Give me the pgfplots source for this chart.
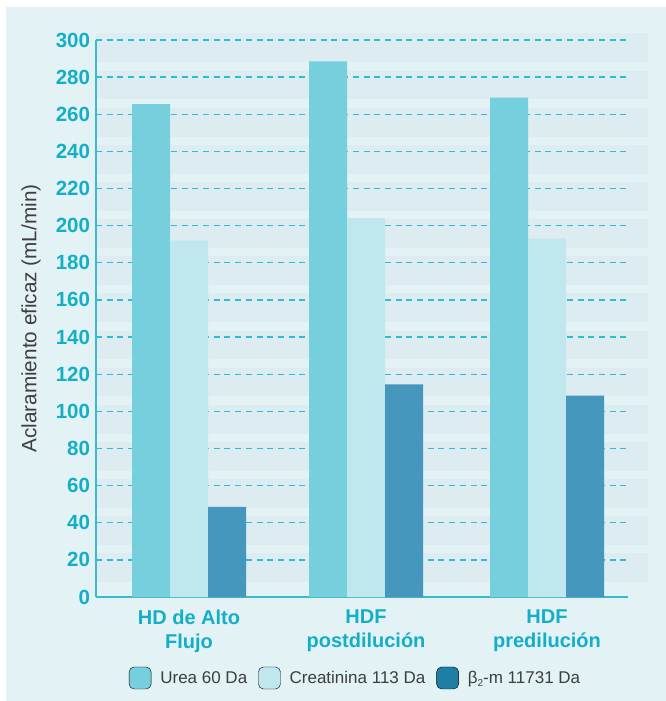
\documentclass[border=0pt]{standalone}
\usepackage{pgfplots}
\pgfplotsset{compat=1.18}
\usepackage{fontspec}
\setmainfont{Liberation Sans}

\definecolor{panel}{HTML}{E2F2F5}
\definecolor{band}{HTML}{DCECF0}
\definecolor{tealtxt}{HTML}{14AEC7}
\definecolor{gridc}{HTML}{2BBDD5}
\definecolor{axisc}{HTML}{3ABACD}
\definecolor{urea}{HTML}{76CFDD}
\definecolor{creat}{HTML}{C0E6EE}
\definecolor{beta}{HTML}{4697BD}
\definecolor{betaleg}{HTML}{1F7EA4}
\definecolor{txtgray}{HTML}{3E3E3E}

\begin{document}
\begin{tikzpicture}[x=1pt,y=1pt]
\useasboundingbox (-96,-104) rectangle (570,597);
\fill[white] (-96,-104) rectangle (570,597);
\fill[panel] (-90,-104) rectangle (570,590);
% soft horizontal stripes behind the plot (557pt for 300 units)
\foreach \v in {20,40,...,300} {
  \fill[band] (0,{(\v-12)*1.85667}) rectangle (552,{(\v+3.5)*1.85667});
}
\begin{axis}[
  at={(0,0)}, anchor=south west,
  scale only axis, width=532pt, height=557pt,
  xmin=0, xmax=532, ymin=0, ymax=300,
  axis x line*=bottom, axis y line*=left,
  axis line style={draw=axisc, line width=1.6pt, -},
  major tick length=0pt,
  ytick={0,20,...,300},
  ymajorgrids,
  major grid style={draw=gridc, line width=1.3pt, dash pattern=on 6pt off 4.7pt},
  xtick={93,270,451},
  xticklabels={HD de Alto\\Flujo, HDF\\postdilución, HDF\\predilución},
  xticklabel style={align=center, text=tealtxt,
    font=\bfseries\fontsize{20}{24}\selectfont, inner sep=6pt, yshift=-6.5pt},
  yticklabel style={text=tealtxt, font=\bfseries\fontsize{20.5}{20.5}\selectfont, xshift=-2.5pt},
  /pgf/number format/assume math mode=true,
  ylabel={Aclaramiento eficaz (mL/min)},
  every axis y label/.style={at={(axis description cs:-0.122,0.5)},
    rotate=90, anchor=center, text=txtgray,
    font=\fontsize{20.7}{20.7}\selectfont},
  ybar, bar width=38pt,
  legend image code/.code={\fill[#1, rounded corners=5pt] (0pt,-11pt) rectangle (22pt,11pt);},
  legend columns=-1,
  legend style={at={(axis description cs:0.486,-0.1454)}, anchor=center,
    draw=none, fill=none, inner sep=0pt,
    font=\fontsize{17}{17}\selectfont, text=txtgray,
    nodes={inner sep=0pt},
    /tikz/every odd column/.style={column sep=9pt},
    /tikz/every even column/.style={column sep=11pt}},
]
\addlegendimage{fill=urea}
\addlegendimage{fill=creat}
\addlegendimage{fill=betaleg}

\addplot[draw=none, fill=urea, bar shift=-38pt]
  coordinates {(93,265.5) (270,288.5) (451,269)};
\addplot[draw=none, fill=creat, bar shift=0pt]
  coordinates {(93,192) (270,204) (451,193)};
\addplot[draw=none, fill=beta, bar shift=38pt]
  coordinates {(93,48.5) (270,114.5) (451,108.5)};

\legend{Urea 60 Da, Creatinina 113 Da,
  β\raisebox{-3.5pt}{\fontsize{10}{10}\selectfont 2}-m 11731 Da}
\end{axis}
\end{tikzpicture}
\end{document}
